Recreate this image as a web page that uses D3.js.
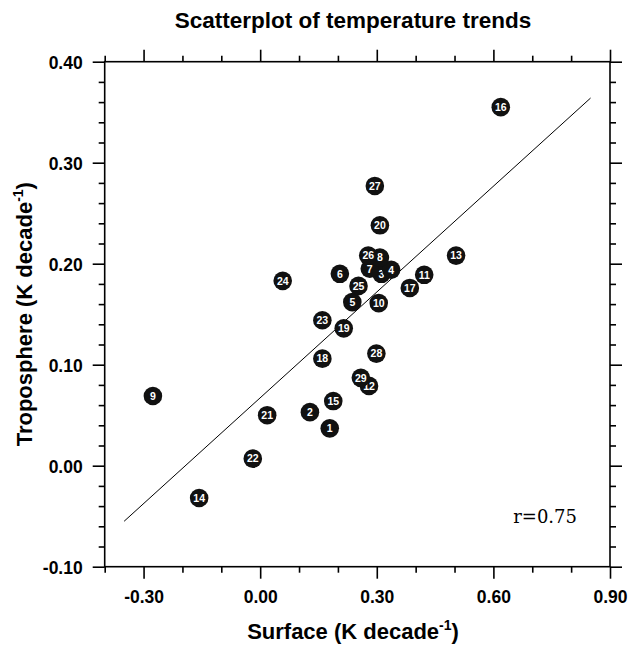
<!DOCTYPE html>
<html>
<head>
<meta charset="utf-8">
<title>Scatterplot of temperature trends</title>
<script src="https://d3js.org/d3.v7.min.js"></script>
<style>
  body { margin: 0; background: #fff; }
  svg text { font-family: "Liberation Sans", Arial, Helvetica, sans-serif; }
</style>
</head>
<body>
<script>
// data
var ids      = [1, 2, 3, 4, 5, 6, 7, 8, 9, 10, 11, 12, 13, 14, 15, 16, 17, 18, 19, 20, 21, 22, 23, 24, 25, 26, 27, 28, 29];
var surface  = [0.179, 0.128, 0.312, 0.337, 0.237, 0.205, 0.282, 0.308, -0.276, 0.305, 0.422, 0.280, 0.504, -0.157, 0.188,
                0.619, 0.385, 0.160, 0.215, 0.308, 0.018, -0.019, 0.160, 0.058, 0.253, 0.278, 0.295, 0.299, 0.259];
var tropo    = [0.037, 0.053, 0.190, 0.194, 0.162, 0.190, 0.195, 0.206, 0.069, 0.161, 0.189, 0.079, 0.208, -0.032, 0.064,
                0.355, 0.176, 0.106, 0.136, 0.238, 0.050, 0.007, 0.144, 0.183, 0.178, 0.208, 0.277, 0.111, 0.087];
var fitX     = [-0.35, 0.85];
var fitY     = [-0.055, 0.364];
var xMajor   = [-0.30, 0.00, 0.30, 0.60, 0.90];
var xMinor   = [-0.40, -0.20, -0.10, 0.10, 0.20, 0.40, 0.50, 0.70, 0.80];
var yMajor   = [-0.10, 0.00, 0.10, 0.20, 0.30, 0.40];
var yMinor   = [-0.08, -0.06, -0.04, -0.02, 0.02, 0.04, 0.06, 0.08, 0.12, 0.14, 0.16, 0.18,
                0.22, 0.24, 0.26, 0.28, 0.32, 0.34, 0.36, 0.38];
var corr     = "r=0.75";

var W = 630, H = 645;
var L = 104.7, R = 610, T = 61.7, B = 566.7;

var svg = d3.select("body").append("svg")
  .attr("width", W).attr("height", H);

var x = d3.scaleLinear().domain([-0.4, 0.9]).range([L, R]);
var y = d3.scaleLinear().domain([-0.1, 0.4]).range([B, T]);

// plain hyphen for negatives, like the original
var fmt = function(v) { return d3.format(".2f")(v).replace("\u2212", "-"); };

// ticks, all four sides, outward
function ticks(axisFn, scale, vals, size, labels, tr) {
  var g = svg.append("g").attr("transform", tr)
    .call(axisFn(scale).tickValues(vals).tickSizeInner(size).tickSizeOuter(0)
      .tickFormat(labels ? fmt : ""));
  g.select(".domain").remove();
  g.selectAll("line").attr("stroke", "#000").attr("stroke-width", 1.6);
  return g;
}

var gb = ticks(d3.axisBottom, x, xMajor, 12, true, "translate(0," + B + ")");
ticks(d3.axisBottom, x, xMinor, 6, false, "translate(0," + B + ")");
ticks(d3.axisTop, x, xMajor, 12, false, "translate(0," + T + ")");
ticks(d3.axisTop, x, xMinor, 6, false, "translate(0," + T + ")");
var gl = ticks(d3.axisLeft, y, yMajor, 12, true, "translate(" + L + ",0)");
ticks(d3.axisLeft, y, yMinor, 6, false, "translate(" + L + ",0)");
ticks(d3.axisRight, y, yMajor, 12, false, "translate(" + R + ",0)");
ticks(d3.axisRight, y, yMinor, 6, false, "translate(" + R + ",0)");

gb.selectAll("text")
  .attr("font-size", 17.5).attr("font-weight", "bold").attr("fill", "#000")
  .attr("font-family", "Liberation Sans, Arial, sans-serif")
  .attr("y", 24).attr("dy", "0.71em");
gl.selectAll("text")
  .attr("font-size", 17.5).attr("font-weight", "bold").attr("fill", "#000")
  .attr("font-family", "Liberation Sans, Arial, sans-serif")
  .attr("x", -22).attr("dy", "0.36em");

// frame
svg.append("rect")
  .attr("x", L).attr("y", T).attr("width", R - L).attr("height", B - T)
  .attr("fill", "none").attr("stroke", "#000").attr("stroke-width", 1.6);

// regression line
svg.append("line")
  .attr("x1", x(fitX[0])).attr("y1", y(fitY[0]))
  .attr("x2", x(fitX[1])).attr("y2", y(fitY[1]))
  .attr("stroke", "#000").attr("stroke-width", 1);

// points with numbers
var pts = svg.selectAll("g.pt")
  .data(ids)
  .enter().append("g")
  .attr("class", "pt")
  .attr("transform", function(d, i) { return "translate(" + x(surface[i]) + "," + y(tropo[i]) + ")"; });

pts.append("circle").attr("r", 9.3).attr("fill", "#111");
pts.append("text")
  .attr("text-anchor", "middle").attr("dy", "0.36em")
  .attr("font-size", 10.5).attr("font-weight", "bold").attr("fill", "#fff")
  .text(function(d) { return d; });

// correlation
svg.append("text")
  .attr("x", 577).attr("y", 523).attr("text-anchor", "end")
  .attr("font-size", 18)
  .style("font-family", "'DejaVu Serif', serif")
  .text(corr);

// titles
svg.append("text")
  .attr("x", 353).attr("y", 28).attr("text-anchor", "middle")
  .attr("font-size", 22.5).attr("font-weight", "bold")
  .text("Scatterplot of temperature trends");

var xt = svg.append("text")
  .attr("x", 353).attr("y", 639).attr("text-anchor", "middle")
  .attr("font-size", 22).attr("font-weight", "bold");
xt.append("tspan").text("Surface (K decade");
xt.append("tspan").attr("font-size", 14).attr("dy", -9).text("-1");
xt.append("tspan").attr("dy", 9).text(")");

var yt = svg.append("text")
  .attr("transform", "translate(32," + ((T + B) / 2) + ") rotate(-90)")
  .attr("text-anchor", "middle")
  .attr("font-size", 22).attr("font-weight", "bold");
yt.append("tspan").text("Troposphere (K decade");
yt.append("tspan").attr("font-size", 14).attr("dy", -9).text("-1");
yt.append("tspan").attr("dy", 9).text(")");
</script>
</body>
</html>
